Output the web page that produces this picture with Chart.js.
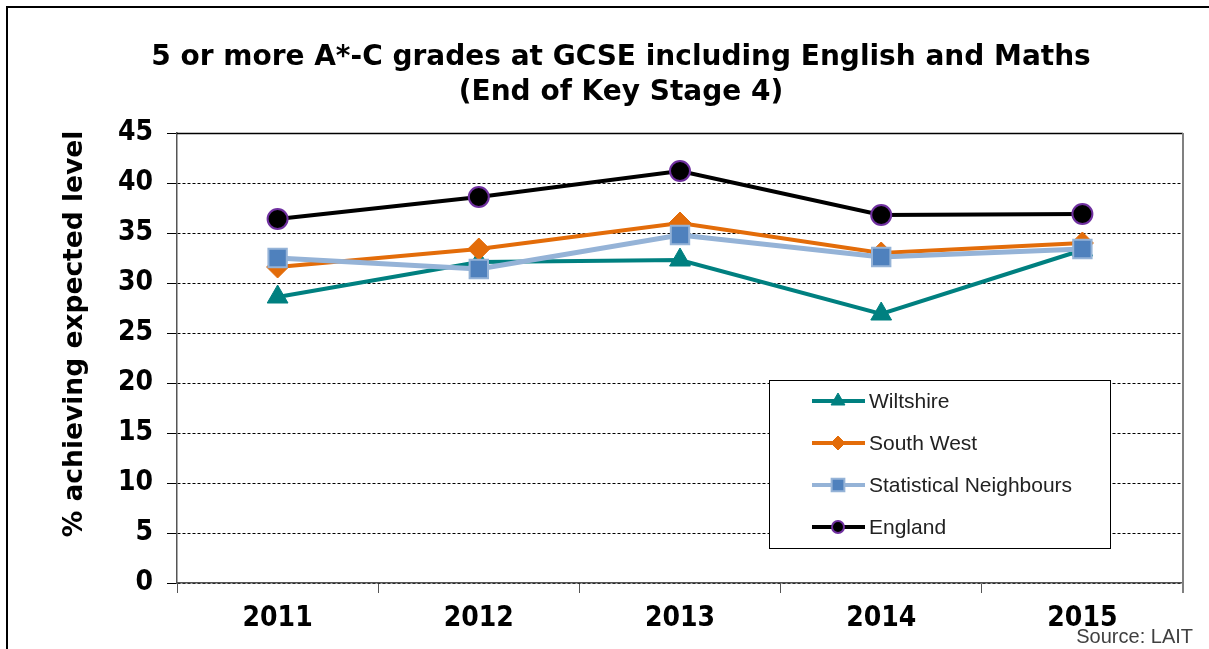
<!DOCTYPE html>
<html><head><meta charset="utf-8">
<script src="https://cdn.jsdelivr.net/npm/chart.js@4/dist/chart.umd.min.js"></script>
<style>html,body{margin:0;padding:0;background:#fff;overflow:hidden}#wrap{position:relative;width:1209px;height:649px}</style>
</head><body><div id="wrap"><canvas id="c" width="1209" height="649"></canvas></div>
<script>
const categories = ['2011', '2012', '2013', '2014', '2015'];
const seriesNames = ['Wiltshire', 'South West', 'Statistical Neighbours', 'England'];
const wiltshire = [28.6, 32.1, 32.3, 26.9, 33.3];
const southWest = [31.6, 33.4, 36.0, 33.0, 34.0];
const statNeighbours = [32.5, 31.4, 34.8, 32.6, 33.4];
const england = [36.4, 38.6, 41.2, 36.8, 36.9];
const yTicks = [0, 5, 10, 15, 20, 25, 30, 35, 40, 45];
const titleLines = ['5 or more A*-C grades at GCSE including English and Maths', '(End of Key Stage 4)'];
const yTitle = '% achieving expected level';
const sourceText = 'Source: LAIT';

const COND = '"DejaVu Sans Condensed", "DejaVu Sans", Verdana, sans-serif';
const WIDE = '"DejaVu Sans", Verdana, sans-serif';

const decor = {
  id: 'decor',
  beforeDraw(chart) {
    const ctx = chart.ctx;
    ctx.save();
    ctx.fillStyle = '#fff';
    ctx.fillRect(0, 0, chart.width, chart.height);
    ctx.strokeStyle = '#000';
    ctx.lineWidth = 2;
    ctx.beginPath();
    ctx.moveTo(7, chart.height);
    ctx.lineTo(7, 7);
    ctx.lineTo(chart.width, 7);
    ctx.stroke();
    ctx.restore();
  },
  beforeDatasetsDraw(chart) {
    const ctx = chart.ctx;
    const a = chart.chartArea;
    ctx.save();
    ctx.lineWidth = 1.5;
    ctx.strokeStyle = '#000';
    ctx.beginPath();
    ctx.moveTo(a.left, a.top + 0.5);
    ctx.lineTo(a.right, a.top + 0.5);
    ctx.stroke();
    ctx.strokeStyle = '#808080';
    ctx.lineWidth = 2;
    ctx.beginPath();
    ctx.moveTo(a.right, a.top);
    ctx.lineTo(a.right, a.bottom + 10);
    ctx.stroke();
    // y axis title
    ctx.translate(75, 334);
    ctx.rotate(-Math.PI / 2);
    ctx.font = 'bold 26.5px ' + WIDE;
    ctx.fillStyle = '#000';
    ctx.textAlign = 'center';
    ctx.textBaseline = 'middle';
    ctx.fillText(yTitle, 0, 0);
    ctx.restore();
  },
  afterDraw(chart) {
    const ctx = chart.ctx;
    ctx.save();
    // legend box
    const bx = 769.5, by = 380.5, bw = 341, bh = 168;
    ctx.fillStyle = '#fff';
    ctx.fillRect(bx, by, bw, bh);
    ctx.strokeStyle = '#000';
    ctx.lineWidth = 1;
    ctx.strokeRect(bx, by, bw, bh);
    const rows = [401, 443, 485, 527];
    const legendRadius = [8, 7, 9, 6];
    chart.data.datasets.forEach((ds, i) => {
      const y = rows[i];
      ctx.strokeStyle = ds.borderColor;
      ctx.lineWidth = 4;
      ctx.beginPath();
      ctx.moveTo(812, y);
      ctx.lineTo(865, y);
      ctx.stroke();
      ctx.fillStyle = ds.pointBackgroundColor;
      ctx.strokeStyle = ds.pointBorderColor;
      ctx.lineWidth = ds.pointBorderWidth;
      Chart.helpers.drawPoint(ctx, {pointStyle: ds.pointStyle, radius: legendRadius[i], rotation: 0, borderWidth: ds.pointBorderWidth}, 838, y);
      ctx.fillStyle = '#222';
      ctx.font = '21px "Liberation Sans", Arial, sans-serif';
      ctx.textAlign = 'left';
      ctx.textBaseline = 'middle';
      ctx.fillText(ds.label, 869, y + 1);
    });
    // source
    ctx.fillStyle = '#404040';
    ctx.font = '20px "Liberation Sans", Arial, sans-serif';
    ctx.textAlign = 'right';
    ctx.textBaseline = 'alphabetic';
    ctx.fillText(sourceText, 1193, 643);
    ctx.restore();
  }
};

new Chart(document.getElementById('c'), {
  type: 'line',
  data: {
    labels: categories,
    datasets: [
      {label: seriesNames[0], data: wiltshire, borderColor: '#008080', borderWidth: 4,
       pointStyle: 'triangle', pointRadius: 12, pointBackgroundColor: '#008080', pointBorderColor: '#008080', pointBorderWidth: 1, order: 3},
      {label: seriesNames[1], data: southWest, borderColor: '#E36C09', borderWidth: 4,
       pointStyle: 'rectRot', pointRadius: 11, pointBackgroundColor: '#E36C09', pointBorderColor: '#E36C09', pointBorderWidth: 1, order: 2},
      {label: seriesNames[2], data: statNeighbours, borderColor: '#95B3D7', borderWidth: 5,
       pointStyle: 'rect', pointRadius: 13, pointBackgroundColor: '#4F81BD', pointBorderColor: '#95B3D7', pointBorderWidth: 2, order: 1},
      {label: seriesNames[3], data: england, borderColor: '#000000', borderWidth: 4,
       pointStyle: 'circle', pointRadius: 10, pointBackgroundColor: '#000000', pointBorderColor: '#7030A0', pointBorderWidth: 2, order: 0}
    ]
  },
  options: {
    responsive: false,
    animation: false,
    events: [],
    layout: {padding: {left: 59, right: 26, top: 0, bottom: 0}},
    plugins: {
      legend: {display: false},
      tooltip: {enabled: false},
      title: {
        display: true,
        text: titleLines,
        color: '#000',
        font: {family: WIDE, weight: 'bold', size: 28, lineHeight: 1.25},
        padding: {top: 40.5, bottom: 22.5}
      }
    },
    scales: {
      x: {
        type: 'category',
        offset: true,
        grid: {offset: true, drawOnChartArea: false, drawTicks: true, tickLength: 10, color: '#555', tickColor: '#555'},
        border: {display: true, color: '#555', width: 1.5},
        ticks: {color: '#000', font: {family: COND, weight: 'bold', size: 28}, padding: 9},
        afterFit(s) { s.height = 66; }
      },
      y: {
        min: 0, max: 45,
        afterBuildTicks(s) { s.ticks = yTicks.map(v => ({value: v})); },
        ticks: {color: '#000', font: {family: COND, weight: 'bold', size: 28}, padding: 14},
        grid: {color: '#000', lineWidth: 1, tickLength: 10, tickColor: '#000'},
        border: {display: true, color: '#555', width: 1.5, dash: [3, 2]},
        afterFit(s) { s.width = 118; }
      }
    }
  },
  plugins: [decor]
});
</script></body></html>
